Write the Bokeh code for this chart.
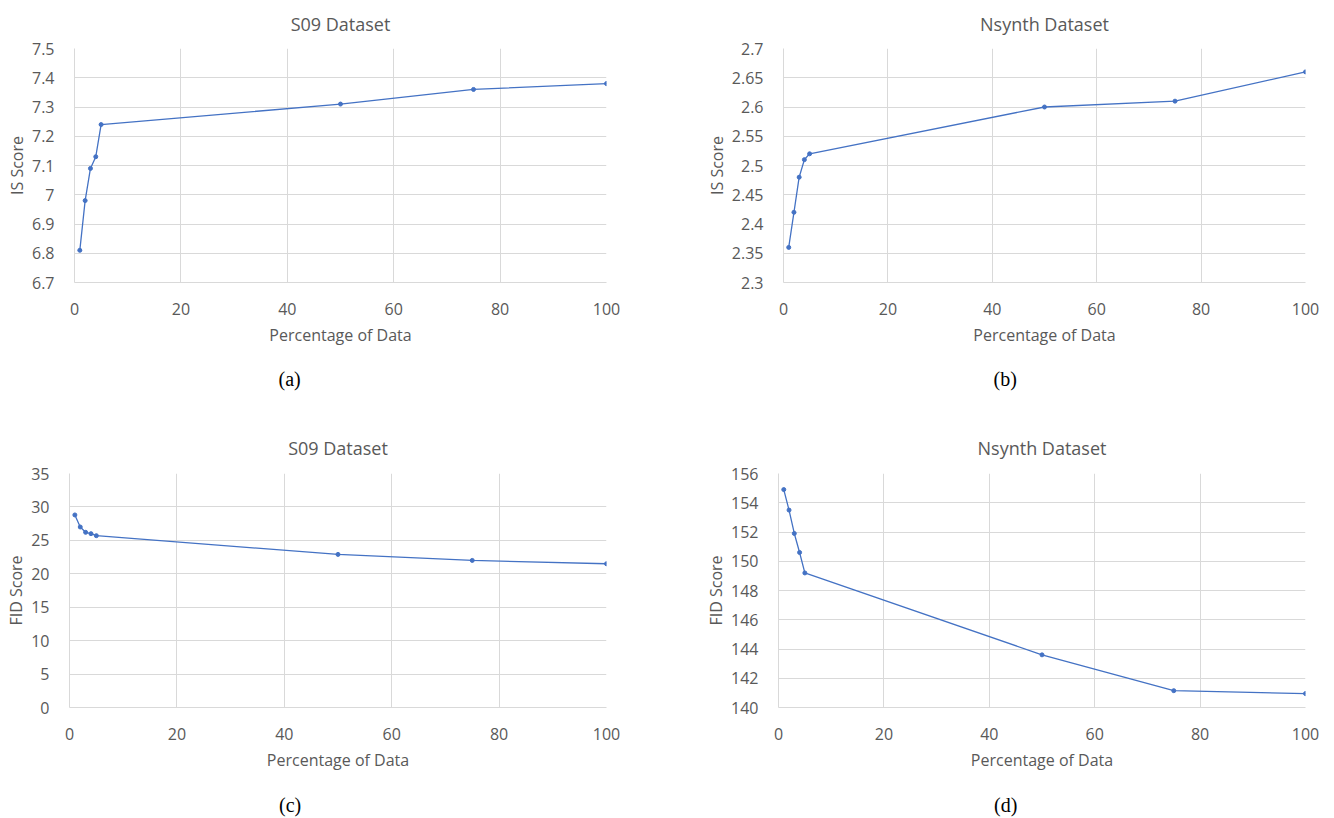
from bokeh.plotting import figure
from bokeh.models import ColumnDataSource, Range1d, FixedTicker, CustomJSTickFormatter, Title, Div
from bokeh.layouts import column, row
from bokeh.embed import file_html
from bokeh.resources import INLINE

# ---- data ----
pct = [1, 2, 3, 4, 5, 50, 75, 100]
is_s09 = [6.81, 6.98, 7.09, 7.13, 7.24, 7.31, 7.36, 7.38]
is_nsynth = [2.36, 2.42, 2.48, 2.51, 2.52, 2.60, 2.61, 2.66]
fid_s09 = [28.8, 27.0, 26.2, 26.0, 25.7, 22.9, 22.0, 21.5]
fid_nsynth = [154.9, 153.5, 151.9, 150.6, 149.2, 143.6, 141.15, 140.95]
x_ticks = [0, 20, 40, 60, 80, 100]

FONT = "Open Sans"
TXT = "#595959"
GRID = "#D9D9D9"
BLUE = "#4472C4"

fmt = CustomJSTickFormatter(code="return String(parseFloat(tick.toFixed(3)));")


def panel(title, ylab, ys, y0, y1, ystep, width, height, bl, br, bt, bb, title_standoff,
          caption=None, cap_offset=0, cap_standoff=0):
    p = figure(width=width, height=height, output_backend="svg", toolbar_location=None,
               min_border_left=bl, min_border_right=br, min_border_top=bt, min_border_bottom=bb,
               x_range=Range1d(0, 100), y_range=Range1d(y0, y1))
    p.title.text = title
    p.title.align = "center"
    p.title.vertical_align = "top"
    p.title.text_font = FONT
    p.title.text_font_size = "18px"
    p.title.text_font_style = "normal"
    p.title.text_color = TXT
    p.title.standoff = title_standoff
    p.outline_line_color = None
    n = int(round((y1 - y0) / ystep))
    yt = [round(y0 + i * ystep, 4) for i in range(n + 1)]
    p.yaxis.ticker = FixedTicker(ticks=yt)
    p.xaxis.ticker = FixedTicker(ticks=x_ticks)
    p.yaxis.formatter = fmt
    p.xaxis.formatter = fmt
    for ax in (p.xaxis, p.yaxis):
        ax.major_tick_line_color = None
        ax.minor_tick_line_color = None
        ax.axis_line_color = GRID
        ax.major_label_text_font = FONT
        ax.major_label_text_font_size = "16px"
        ax.major_label_text_color = TXT
        ax.axis_label_text_font = FONT
        ax.axis_label_text_font_size = "16px"
        ax.axis_label_text_font_style = "normal"
        ax.axis_label_text_color = TXT
    p.xaxis.axis_label = "Percentage of Data"
    p.yaxis.axis_label = ylab
    p.xaxis.major_label_standoff = 14
    p.yaxis.major_label_standoff = 14
    p.xaxis.axis_label_standoff = 6
    p.yaxis.axis_label_standoff = 1
    p.xgrid.grid_line_color = GRID
    p.ygrid.grid_line_color = GRID
    src = ColumnDataSource(dict(x=pct, y=ys))
    p.line("x", "y", source=src, line_color=BLUE, line_width=1.3)
    p.scatter("x", "y", source=src, size=4, color=BLUE)
    if caption:
        cap = Title(text=caption, align="left", offset=cap_offset, text_font="Liberation Serif",
                    text_font_size="20px", text_font_style="normal", text_color="#000000",
                    standoff=cap_standoff)
        p.add_layout(cap, "below")
    return p


def caption_div(text, width, pad_left):
    html = ('<div style="font-family:\'Liberation Serif\';font-size:20px;color:#000000;'
            'text-align:left;padding-top:9px;line-height:24px;padding-left:%dpx">%s</div>'
            % (pad_left, text))
    return Div(text=html, width=width, height=34, margin=(0, 0, 0, 0))


pa = panel("S09 Dataset", "IS Score", is_s09, 6.7, 7.5, 0.1,
           668, 418, 74, 62, 48, 136, 22, "(a)", 204, 35)
pb = panel("Nsynth Dataset", "IS Score", is_nsynth, 2.3, 2.7, 0.05,
           658, 418, 115, 21, 48, 136, 22, "(b)", 210, 35)
pc = panel("S09 Dataset", "FID Score", fid_s09, 0, 35, 5,
           668, 366, 69, 62, 55, 77, 24)
pd_ = panel("Nsynth Dataset", "FID Score", fid_nsynth, 140, 156, 2,
            658, 366, 110, 21, 55, 77, 24)

dc = caption_div("(c)", 580, 279)
dd = caption_div("(d)", 746, 414)

layout = column(row(pa, pb), row(pc, pd_), row(dc, dd))
open("out.html", "w").write(file_html(layout, INLINE))
